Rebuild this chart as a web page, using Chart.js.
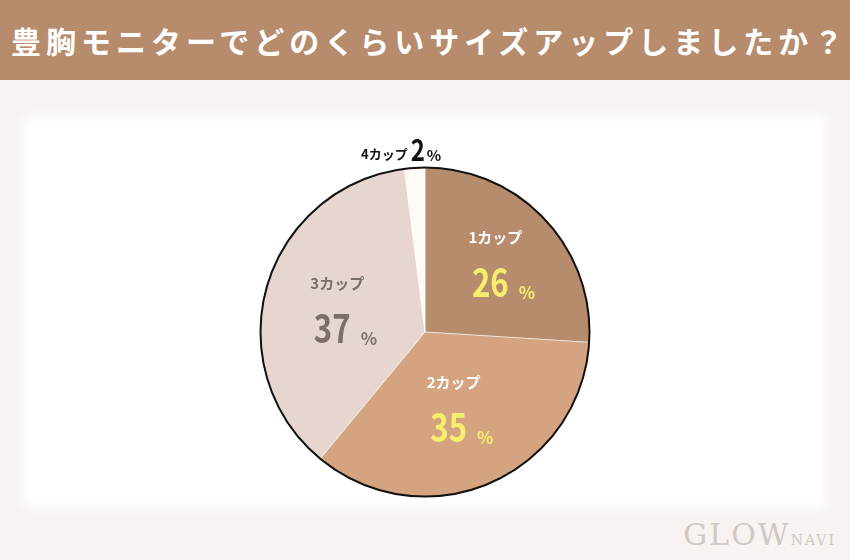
<!DOCTYPE html>
<html lang="ja">
<head>
<meta charset="utf-8">
<script src="https://cdn.jsdelivr.net/npm/chart.js@4"></script>
<style>
  html, body { margin: 0; padding: 0; }
  body {
    width: 850px; height: 560px; overflow: hidden; position: relative;
    background: #f8f3f0;
    font-family: "Noto Sans CJK JP", "Noto Sans", sans-serif;
  }
  #header {
    position: absolute; left: 0; top: 0; width: 850px; height: 80px;
    background: #b68c6d; color: #fff;
    font-weight: bold; font-size: 30px; letter-spacing: 5px;
    line-height: 80px; padding-left: 11px; box-sizing: border-box; white-space: nowrap;
  }
  #panel {
    position: absolute; left: 30px; top: 122px; width: 790px; height: 380px;
    background: #ffffff; box-shadow: 0 0 12px 6px #ffffff;
  }
  #glow {
    position: absolute; right: 14px; bottom: 8px;
    font-family: "DejaVu Serif", serif; font-size: 30px; letter-spacing: 2px;
    color: #cfc8c4;
  }
  canvas { position: absolute; left: 0; top: 80px; }
</style>
</head>
<body>
<div id="header">豊胸モニターでどのくらいサイズアップしましたか？</div>
<div id="panel"></div>
<div id="glow">GLOW<span style="font-size:14px">NAVI</span></div>
<canvas id="pie" width="850" height="480"></canvas>
<script>
// アンケート結果
const categories = ["1カップ", "2カップ", "3カップ", "4カップ"];
const percents = [26, 35, 37, 2];
const sliceColors = ["#b68c6d", "#d3a47f", "#e6d6cf", "#fffaf6"];

// ラベルの見た目
const labelStyle = [
  { r: 0.62, name: "#ffffff", num: "#f6ee6c" },
  { r: 0.50, name: "#ffffff", num: "#f6ee6c" },
  { r: 0.53, name: "#7b6f69", num: "#7b6f69" },
  { r: 1.10, name: "#111111", num: "#111111", outside: true }
];
const numFont = "'Noto Sans CJK JP'";
const squeeze = 0.8;

// 数字を横に詰めて描く
function narrowText(ctx, txt, x, y) {
  ctx.save();
  ctx.translate(x, y);
  ctx.scale(squeeze, 1);
  ctx.fillText(txt, 0, 0);
  ctx.restore();
}

const pieLabels = {
  id: "pieLabels",
  afterDatasetsDraw(chart) {
    const ctx = chart.ctx;
    const arcs = chart.getDatasetMeta(0).data;
    const cx = arcs[0].x, cy = arcs[0].y, R = arcs[0].outerRadius;

    // 外周の黒い線
    ctx.save();
    ctx.beginPath();
    ctx.arc(cx, cy, R, 0, Math.PI * 2);
    ctx.lineWidth = 2;
    ctx.strokeStyle = "#111";
    ctx.stroke();

    arcs.forEach((arc, i) => {
      const st = labelStyle[i];
      const mid = (arc.startAngle + arc.endAngle) / 2;
      const x = cx + Math.cos(mid) * R * st.r;
      const y = cy + Math.sin(mid) * R * st.r;
      ctx.textBaseline = "alphabetic";
      ctx.textAlign = "left";
      if (st.outside) {
        ctx.font = "bold 13px 'Noto Sans CJK JP'";
        const nameW = ctx.measureText(categories[i]).width;
        ctx.font = "bold 30px " + numFont;
        const numW = ctx.measureText(String(percents[i])).width * squeeze;
        ctx.font = "bold 15px 'Noto Sans CJK JP'";
        const pW = ctx.measureText("%").width;
        let sx = x - 12 - (nameW + numW + pW + 6) / 2;
        ctx.fillStyle = st.name;
        ctx.font = "bold 13px 'Noto Sans CJK JP'";
        ctx.fillText(categories[i], sx, y + 8);
        sx += nameW + 3;
        ctx.font = "bold 30px " + numFont;
        narrowText(ctx, String(percents[i]), sx, y + 10);
        sx += numW + 2;
        ctx.font = "bold 15px 'Noto Sans CJK JP'";
        ctx.fillText("%", sx, y + 10);
      } else {
        ctx.textAlign = "center";
        ctx.fillStyle = st.name;
        ctx.font = "bold 15px 'Noto Sans CJK JP'";
        ctx.fillText(categories[i], x - 4, y - 19);
        ctx.textAlign = "left";
        ctx.font = "bold 39px " + numFont;
        const numW = ctx.measureText(String(percents[i])).width * squeeze;
        ctx.fillStyle = st.num;
        narrowText(ctx, String(percents[i]), x - numW / 2 - 9, y + 35);
        ctx.font = "bold 17px 'Noto Sans CJK JP'";
        ctx.fillText("%", x + numW / 2 + 1, y + 37);
      }
    });
    ctx.restore();
  }
};

new Chart(document.getElementById("pie"), {
  type: "pie",
  data: {
    labels: categories,
    datasets: [{
      data: percents,
      backgroundColor: sliceColors,
      borderColor: "rgba(255,255,255,0.5)",
      borderWidth: 1
    }]
  },
  options: {
    responsive: false,
    maintainAspectRatio: false,
    animation: false,
    layout: { padding: { top: 87, bottom: 63 } },
    plugins: {
      legend: { display: false },
      tooltip: { enabled: false }
    }
  },
  plugins: [pieLabels]
});
</script>
</body>
</html>
